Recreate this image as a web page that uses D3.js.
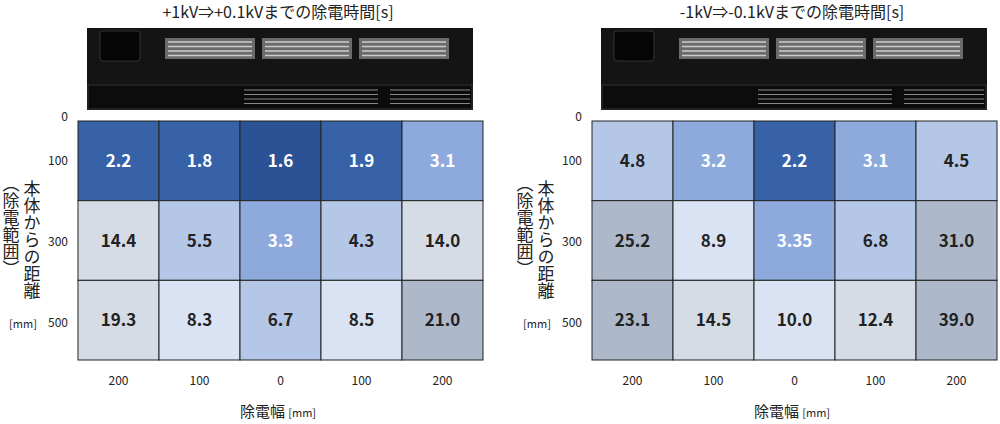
<!DOCTYPE html><html><head><meta charset="utf-8">
<script src="https://cdn.jsdelivr.net/npm/d3@7"></script>
<style>body{margin:0;background:#fff}svg{font-family:"Noto Sans CJK JP","Open Sans",sans-serif}.vt{writing-mode:vertical-rl;text-orientation:upright}</style></head><body>
<svg id="c" width="1000" height="424"></svg>
<script>
const columns=["200","100","0","100","200"];
const rows=["100","300","500"];
const yTicks=["0","100","300","500"];
const titles=["+1kV⇒+0.1kVまでの除電時間[s]","-1kV⇒-0.1kVまでの除電時間[s]"];
const positiveValues=[[2.2,1.8,1.6,1.9,3.1],[14.4,5.5,3.3,4.3,14.0],[19.3,8.3,6.7,8.5,21.0]];
const negativeValues=[[4.8,3.2,2.2,3.1,4.5],[25.2,8.9,3.35,6.8,31.0],[23.1,14.5,10.0,12.4,39.0]];
const labelsNeg=[["4.8","3.2","2.2","3.1","4.5"],["25.2","8.9","3.35","6.8","31.0"],["23.1","14.5","10.0","12.4","39.0"]];
const svg=d3.select("#c");
const color=d3.scaleThreshold().domain([1.7,2.5,3.5,7,11,20]).range(["#2b5294","#3862a8","#8eaadc","#b4c7e7","#dae3f3","#d6dce5","#adb9ca"]);
function panel(x0,title,vals,labs){
  const g=svg.append("g");
  const x=d3.scaleBand().domain(d3.range(5)).range([x0,x0+405]);
  const y=d3.scaleBand().domain(d3.range(3)).range([121,360]);
  g.append("text").attr("x",x0+200).attr("y",18).attr("text-anchor","middle").attr("font-size",16).attr("fill","#222").text(title);
  const d=g.append("g");
  d.append("rect").attr("x",x0+9).attr("y",28).attr("width",386).attr("height",82).attr("fill","#141414");
  d.append("rect").attr("x",x0+10).attr("y",85).attr("width",384).attr("height",24).attr("fill","#0c0c0c").attr("stroke","#333");
  d.append("rect").attr("x",x0+22).attr("y",31).attr("width",40).attr("height",30).attr("rx",3).attr("fill","#050505").attr("stroke","#333");
  [0,1,2].forEach(i=>{
    d.append("rect").attr("x",x0+87+i*97).attr("y",38).attr("width",90).attr("height",21).attr("fill","#6b6b6b");
    for(let k=0;k<4;k++)d.append("line").attr("x1",x0+90+i*97).attr("x2",x0+174+i*97).attr("y1",42+k*4.5).attr("y2",42+k*4.5).attr("stroke","#ccc").attr("stroke-width",1.3);
  });
  for(let k=0;k<4;k++){d.append("line").attr("x1",x0+166).attr("x2",x0+300).attr("y1",90+k*4.5).attr("y2",90+k*4.5).attr("stroke","#888").attr("stroke-width",1);
    d.append("line").attr("x1",x0+312).attr("x2",x0+392).attr("y1",90+k*4.5).attr("y2",90+k*4.5).attr("stroke","#888").attr("stroke-width",1);}
  vals.forEach((r,ri)=>r.forEach((v,ci)=>{
    g.append("rect").attr("x",x(ci)).attr("y",y(ri)).attr("width",x.bandwidth()).attr("height",y.bandwidth()).attr("fill",color(v)).attr("stroke","#222").attr("stroke-width",1);
    g.append("text").attr("x",x(ci)+x.bandwidth()/2).attr("y",y(ri)+y.bandwidth()/2+6).attr("text-anchor","middle").attr("font-size",17).attr("font-weight","bold").attr("fill",v<3.5?"#fff":"#222").text(labs?labs[ri][ci]:v.toFixed(1));
  }));
  columns.forEach((c,i)=>g.append("text").attr("x",x(i)+x.bandwidth()/2).attr("y",385).attr("text-anchor","middle").attr("font-size",12).attr("fill","#222").text(c));
  const ty=[117,161,242,323];
  yTicks.forEach((t,i)=>g.append("text").attr("x",x0-10).attr("y",ty[i]+4).attr("text-anchor","end").attr("font-size",12).attr("fill","#222").text(t));
  const xl=g.append("text").attr("x",x0+200).attr("y",417).attr("text-anchor","middle").attr("fill","#222");
  xl.append("tspan").attr("font-size",15).text("除電幅 ");xl.append("tspan").attr("font-size",11).text(" [mm]");
  g.append("text").attr("class","vt").attr("x",x0-46).attr("y",180).attr("font-size",17).attr("fill","#222").text("本体からの距離");
  g.append("text").attr("class","vt").attr("x",x0-67).attr("y",175).attr("font-size",17).attr("fill","#222").text("（除電範囲）");
  g.append("text").attr("x",x0-55).attr("y",328).attr("text-anchor","middle").attr("font-size",11).attr("fill","#222").text("[mm]");
}
panel(78,titles[0],positiveValues,null);
panel(592,titles[1],negativeValues,labelsNeg);
</script></body></html>
